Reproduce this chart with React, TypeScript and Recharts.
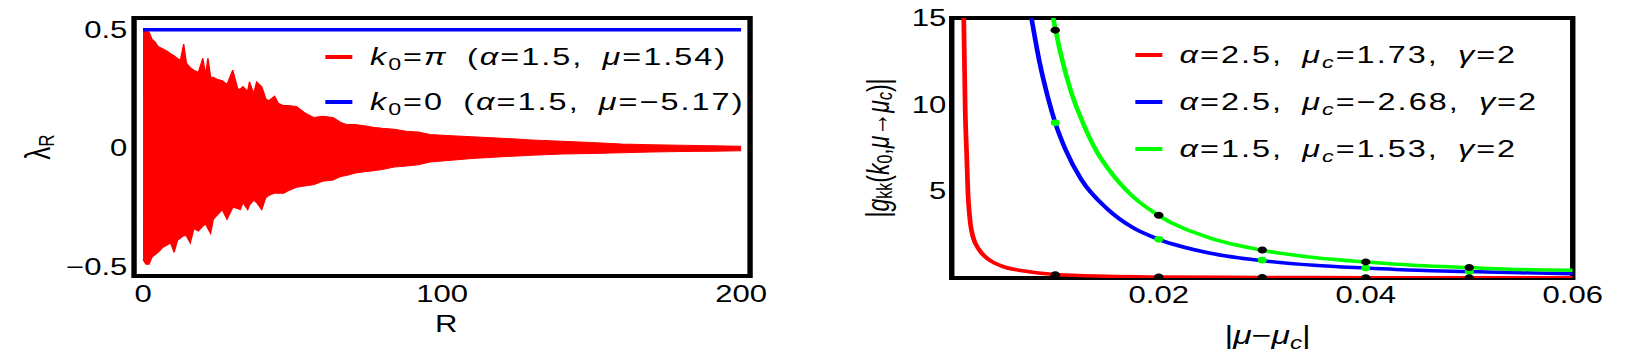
import React from "react";
import {
  ComposedChart,
  Area,
  Line,
  Scatter,
  XAxis,
  YAxis,
  ReferenceArea,
  Legend,
  Label,
} from "recharts";

// the original figure is stretched sideways, so everything is drawn narrow and scaled
const S = 1.35;
const FONT = "'Liberation Sans', Arial, sans-serif";
const RED = "#ff0000";
const BLUE = "#0000ff";
const GREEN = "#00ff00";

// left panel: lambda_R against R (envelope of the red oscillation)
const rValues = [
  0, 1, 2, 3, 4, 5, 6.5, 8, 9.2, 10.4, 11.5, 12.5, 13.6, 14.5, 15.8, 17, 18.5,
  20, 20.9, 21.7, 22.6, 23.5, 25, 26.5, 28.1, 30, 31.7, 32.5, 33.4, 35, 35.6,
  37, 38, 39.7, 41, 42, 44, 45.2, 47, 48.5, 51.3, 54, 57, 60, 63.5, 66, 68, 71,
  74, 77, 80, 84, 88, 92, 96, 100, 110, 120, 130, 140, 150, 160, 170, 180, 190,
  200,
];
const lambdaUpper = [
  0.5, 0.5, 0.49, 0.46, 0.45, 0.43, 0.42, 0.41, 0.4, 0.39, 0.38, 0.37, 0.44,
  0.36, 0.34, 0.33, 0.32, 0.38, 0.31, 0.38, 0.3, 0.3, 0.29, 0.285, 0.27, 0.33,
  0.25, 0.25, 0.26, 0.24, 0.28, 0.23, 0.28, 0.26, 0.21, 0.2, 0.22, 0.19, 0.18,
  0.18, 0.176, 0.15, 0.13, 0.135, 0.13, 0.11, 0.1, 0.1, 0.095, 0.088, 0.084,
  0.08, 0.072, 0.068, 0.058, 0.055, 0.048, 0.042, 0.035, 0.029, 0.024, 0.018,
  0.015, 0.012, 0.01, 0.008,
];
const lambdaLower = [
  -0.47, -0.49, -0.49, -0.46, -0.45, -0.44, -0.42, -0.41, -0.4, -0.44, -0.39,
  -0.38, -0.37, -0.37, -0.4, -0.34, -0.35, -0.33, -0.32, -0.34, -0.36, -0.3,
  -0.28, -0.26, -0.3, -0.25, -0.255, -0.26, -0.23, -0.26, -0.24, -0.22, -0.23,
  -0.26, -0.21, -0.2, -0.19, -0.19, -0.19, -0.18, -0.165, -0.16, -0.155, -0.14,
  -0.135, -0.12, -0.115, -0.105, -0.1, -0.095, -0.09, -0.08, -0.075, -0.07,
  -0.058, -0.054, -0.044, -0.036, -0.03, -0.025, -0.022, -0.019, -0.016,
  -0.014, -0.013, -0.011,
];
const flatR = [0, 200];
const flatLambda = [0.5, 0.5];

// right panel: |g_kk| against |mu - mu_c|
const redMu = [
  0.00116, 0.0013, 0.00145, 0.00156, 0.00172, 0.00204, 0.00268, 0.00349,
  0.00477, 0.007, 0.01, 0.015, 0.02, 0.03, 0.04, 0.05, 0.06,
];
const redG = [
  15, 9.7, 7, 5, 3.6, 2.4, 1.6, 1.1, 0.7, 0.4, 0.2, 0.1, 0.06, 0.03, 0.02,
  0.01, 0.01,
];
const blueMu = [
  0.0077, 0.0085, 0.0093, 0.01, 0.011, 0.0125, 0.015, 0.0175, 0.02, 0.025,
  0.03, 0.035, 0.04, 0.045, 0.05, 0.055, 0.06,
];
const blueG = [
  15, 12.4, 10.4, 8.95, 7.4, 5.7, 4.0, 2.9, 2.23, 1.43, 1.0, 0.73, 0.57, 0.44,
  0.37, 0.3, 0.25,
];
const greenMu = [
  0.0098, 0.0105, 0.0115, 0.0125, 0.014, 0.015, 0.0175, 0.02, 0.025, 0.03,
  0.035, 0.04, 0.045, 0.05, 0.055, 0.06,
];
const greenG = [
  15, 13.0, 10.8, 9.2, 7.3, 6.4, 4.7, 3.6, 2.3, 1.6, 1.18, 0.92, 0.72, 0.6,
  0.49, 0.44,
];
const dotMu = [0.01, 0.02, 0.03, 0.04, 0.05];
const redDots = [0.19, 0.06, 0.03, 0.02, 0.01];
const blueDots = [8.95, 2.23, 1.03, 0.57, 0.38];
const greenDots = [14.3, 3.62, 1.62, 0.93, 0.61];

const leftXTicks = [0, 100, 200];
const leftYTicks = [-0.5, 0, 0.5];
const rightXTicks = [0.02, 0.04, 0.06];
const rightYTicks = [5, 10, 15];

const bandData = rValues.map((x, i) => ({ x, band: [lambdaLower[i], lambdaUpper[i]] }));
const flatData = flatR.map((x, i) => ({ x, y: flatLambda[i] }));
const toXY = (xs: number[], ys: number[]) => xs.map((x, i) => ({ x, y: ys[i] }));

const tickStyle = { fill: "#000", fontSize: 23, fontFamily: FONT };
const minus = (v: number) => String(v).replace("-", "\u2212");

const sub = { fontSize: "0.72em", position: "relative" as const, top: "0.3em" };

const leftRows = [
  {
    color: RED,
    label: (
      <>
        <i>k</i><span style={sub}>0</span>=<i>π</i> (<i>α</i>=1.5, <i>μ</i>=1.54)
      </>
    ),
  },
  {
    color: BLUE,
    label: (
      <>
        <i>k</i><span style={sub}>0</span>=0 (<i>α</i>=1.5, <i>μ</i>={"\u2212"}5.17)
      </>
    ),
  },
];

const rightRows = [
  {
    color: RED,
    label: (
      <>
        <i>α</i>=2.5, <i>μ</i><i style={sub}>c</i>=1.73, <i>γ</i>=2
      </>
    ),
  },
  {
    color: BLUE,
    label: (
      <>
        <i>α</i>=2.5, <i>μ</i><i style={sub}>c</i>={"\u2212"}2.68, <i>γ</i>=2
      </>
    ),
  },
  {
    color: GREEN,
    label: (
      <>
        <i>α</i>=1.5, <i>μ</i><i style={sub}>c</i>=1.53, <i>γ</i>=2
      </>
    ),
  },
];

function LegendBox({ rows, rowHeight }: { rows: typeof leftRows; rowHeight: number }) {
  return (
    <div
      style={{
        fontFamily: FONT,
        fontSize: 24,
        letterSpacing: 1.5,
        wordSpacing: 6,
        color: "#000",
      }}
    >
      {rows.map((r, i) => (
        <div
          key={i}
          style={{ display: "flex", alignItems: "center", height: rowHeight, whiteSpace: "nowrap" }}
        >
          <span style={{ width: 20, height: 3.5, background: r.color, marginRight: 13 }} />
          <span>{r.label}</span>
        </div>
      ))}
    </div>
  );
}

function LambdaPanel() {
  return (
    <ComposedChart width={600} height={364} margin={{ top: 18, right: 44.4, bottom: 0, left: 0 }}>
      <XAxis
        type="number"
        dataKey="x"
        domain={[-3, 203]}
        ticks={leftXTicks}
        interval={0}
        allowDataOverflow
        axisLine={false}
        tickLine={false}
        tickSize={0}
        tickMargin={10}
        height={88}
        tick={tickStyle}
      >
        <Label
          content={({ viewBox }: any) => (
            <text
              x={viewBox.x + viewBox.width / 2 + 3}
              y={332}
              textAnchor="middle"
              fontSize={23}
              fontFamily={FONT}
              fill="#000"
            >
              R
            </text>
          )}
        />
      </XAxis>
      <YAxis
        type="number"
        domain={[-0.54, 0.55]}
        ticks={leftYTicks}
        interval={0}
        allowDataOverflow
        axisLine={false}
        tickLine={false}
        tickSize={0}
        tickMargin={5}
        width={99.3}
        tick={tickStyle}
        tickFormatter={minus}
      >
        <Label
          content={({ viewBox }: any) => {
            const cx = 28;
            const cy = viewBox.y + viewBox.height / 2;
            return (
              <text
                x={cx}
                y={cy}
                transform={`rotate(-90 ${cx} ${cy})`}
                textAnchor="middle"
                dominantBaseline="central"
                fontSize={26}
                fontFamily={FONT}
                fill="#000"
              >
                λ<tspan fontSize={17} dy={6}>R</tspan>
              </text>
            );
          }}
        />
      </YAxis>
      <Area
        data={bandData}
        dataKey="band"
        type="linear"
        stroke={RED}
        strokeWidth={1}
        fill={RED}
        fillOpacity={1}
        isAnimationActive={false}
      />
      <Line
        data={flatData}
        dataKey="y"
        type="linear"
        stroke={BLUE}
        strokeWidth={3.5}
        dot={false}
        isAnimationActive={false}
      />
      <ReferenceArea
        x1={-3}
        x2={203}
        y1={-0.54}
        y2={0.55}
        fill="none"
        stroke="#000"
        strokeWidth={4}
      />
      <Legend
        layout="vertical"
        align="center"
        verticalAlign="middle"
        wrapperStyle={{ left: 241, top: 34.5, width: 330 }}
        content={() => <LegendBox rows={leftRows} rowHeight={45} />}
      />
    </ComposedChart>
  );
}

function GreenPanel() {
  return (
    <ComposedChart width={600} height={364} margin={{ top: 18, right: 35, bottom: 0, left: 0 }}>
      <XAxis
        type="number"
        dataKey="x"
        domain={[0, 0.06]}
        ticks={rightXTicks}
        interval={0}
        allowDataOverflow
        axisLine={false}
        tickLine={false}
        tickSize={0}
        tickMargin={9}
        height={86}
        tick={tickStyle}
      >
        <Label
          content={({ viewBox }: any) => (
            <text
              x={viewBox.x + viewBox.width / 2 + 4}
              y={344}
              textAnchor="middle"
              fontSize={25}
              fontFamily={FONT}
              fill="#000"
            >
              |<tspan fontStyle="italic">μ</tspan>{"\u2212"}<tspan fontStyle="italic">μ</tspan>
              <tspan fontStyle="italic" fontSize={18} dy={5}>c</tspan>
              <tspan dy={-5}>|</tspan>
            </text>
          )}
        />
      </XAxis>
      <YAxis
        type="number"
        domain={[0, 15]}
        ticks={rightYTicks}
        interval={0}
        allowDataOverflow
        axisLine={false}
        tickLine={false}
        tickSize={0}
        tickMargin={4}
        width={105}
        tick={tickStyle}
      >
        <Label
          content={({ viewBox }: any) => {
            const cx = 50;
            const cy = viewBox.y + viewBox.height / 2;
            return (
              <text
                x={cx}
                y={cy}
                transform={`rotate(-90 ${cx} ${cy})`}
                textAnchor="middle"
                dominantBaseline="central"
                fontSize={23}
                fontFamily={FONT}
                fill="#000"
              >
                |<tspan fontStyle="italic">g</tspan>
                <tspan fontSize={16} dy={5}>kk</tspan>
                <tspan dy={-5}>(</tspan>
                <tspan fontStyle="italic">k</tspan>
                <tspan fontSize={16} dy={5}>0</tspan>
                <tspan dy={-5}>,</tspan>
                <tspan fontStyle="italic">μ</tspan>→<tspan fontStyle="italic">μ</tspan>
                <tspan fontStyle="italic" fontSize={16} dy={5}>c</tspan>
                <tspan dy={-5}>)|</tspan>
              </text>
            );
          }}
        />
      </YAxis>
      <Line
        data={toXY(redMu, redG)}
        dataKey="y"
        type="monotone"
        stroke={RED}
        strokeWidth={3.5}
        dot={false}
        isAnimationActive={false}
      />
      <Line
        data={toXY(blueMu, blueG)}
        dataKey="y"
        type="monotone"
        stroke={BLUE}
        strokeWidth={3.5}
        dot={false}
        isAnimationActive={false}
      />
      <Line
        data={toXY(greenMu, greenG)}
        dataKey="y"
        type="monotone"
        stroke={GREEN}
        strokeWidth={3.5}
        dot={false}
        isAnimationActive={false}
      />
      <ReferenceArea x1={0} x2={0.06} y1={0} y2={15} fill="none" stroke="#000" strokeWidth={4} />
      <Scatter
        data={toXY(dotMu, blueDots)}
        dataKey="y"
        fill={GREEN}
        shape={(p: any) => <circle cx={p.cx} cy={p.cy} r={3.3} fill={GREEN} />}
        isAnimationActive={false}
      />
      <Scatter
        data={toXY(dotMu, greenDots)}
        dataKey="y"
        fill="#000"
        shape={(p: any) => <circle cx={p.cx} cy={p.cy} r={3.5} fill="#000" />}
        isAnimationActive={false}
      />
      <Scatter
        data={toXY(dotMu, redDots)}
        dataKey="y"
        fill="#000"
        shape={(p: any) => <circle cx={p.cx} cy={p.cy} r={3.5} fill="#000" />}
        isAnimationActive={false}
      />
      <Legend
        layout="vertical"
        align="center"
        verticalAlign="middle"
        wrapperStyle={{ left: 240.7, top: 31.5, width: 330 }}
        content={() => <LegendBox rows={rightRows} rowHeight={47} />}
      />
    </ComposedChart>
  );
}

export default function App() {
  return (
    <div
      style={{
        position: "absolute",
        left: 0,
        top: 0,
        width: 1652 / S,
        height: 364,
        background: "#fff",
        transform: `scaleX(${S})`,
        transformOrigin: "0 0",
      }}
    >
      <div style={{ position: "absolute", left: 0, top: 0 }}>
        <LambdaPanel />
      </div>
      <div style={{ position: "absolute", left: 600, top: 0 }}>
        <GreenPanel />
      </div>
    </div>
  );
}
